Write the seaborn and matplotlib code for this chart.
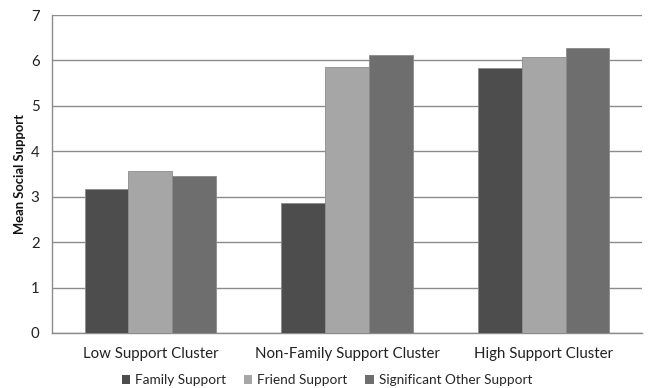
import matplotlib
matplotlib.use("Agg")
import matplotlib.pyplot as plt
import seaborn as sns
import pandas as pd
from matplotlib.patches import Patch

clusters = ["Low Support Cluster", "Non-Family Support Cluster", "High Support Cluster"]
family_support = [3.18, 2.86, 5.84]
friend_support = [3.57, 5.86, 6.08]
sig_other_support = [3.46, 6.12, 6.28]
series = ["Family Support", "Friend Support", "Significant Other Support"]
colors = ["#4d4d4d", "#a6a6a6", "#6e6e6e"]

df = pd.DataFrame({
    "cluster": clusters * 3,
    "support": [series[0]] * 3 + [series[1]] * 3 + [series[2]] * 3,
    "value": family_support + friend_support + sig_other_support,
})

sns.set_style("white")
plt.rcParams["font.family"] = ["Lato", "DejaVu Sans"]

fig = plt.figure(figsize=(6.51, 3.88), dpi=100)
ax = fig.add_axes([52 / 651, 1 - 333 / 388, 590 / 651, 318 / 388])

sns.barplot(data=df, x="cluster", y="value", hue="support", hue_order=series,
            palette=colors, width=0.667, saturation=1, ax=ax,
            edgecolor="#8c8c8c", linewidth=0.6, legend=False, zorder=3)

ax.set_ylim(0, 7)
ax.set_xlim(-0.5, 2.5)
ax.set_yticks(range(0, 8))
ax.yaxis.grid(True, color="#8c8c8c", linewidth=1.0, zorder=0)
ax.set_axisbelow(True)

for side in ["top", "right"]:
    ax.spines[side].set_visible(False)
for side in ["left", "bottom"]:
    ax.spines[side].set_color("#8c8c8c")
    ax.spines[side].set_linewidth(1.0)

# Category separators as minor ticks on the x axis
ax.set_xticks([-0.5, 0.5, 1.5, 2.5], minor=True)
ax.tick_params(axis="x", which="minor", length=4, color="#8c8c8c", width=1)
ax.tick_params(axis="x", which="major", length=0, labelsize=10.8, pad=10, colors="#222222")
ax.tick_params(axis="y", length=5, color="#8c8c8c", width=1, labelsize=10.8, pad=4, colors="#222222")
ax.set_xticks(range(3))
ax.set_xticklabels(clusters)

ax.set_xlabel("")
ax.set_ylabel("Mean Social Support", fontsize=9.4, fontweight="bold", labelpad=3, color="#111111")

handles = [Patch(facecolor=c, edgecolor="none") for c in colors]
fig.legend(handles, series, loc="center", bbox_to_anchor=(327 / 651, 1 - 380 / 388),
           ncol=3, frameon=False, fontsize=9.8, handlelength=0.6, handleheight=0.6,
           handletextpad=0.4, columnspacing=1.3)

fig.savefig("out.png", dpi=100)
